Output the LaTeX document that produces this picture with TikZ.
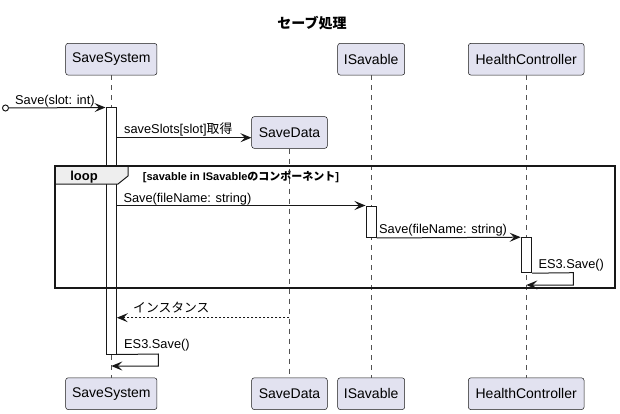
\documentclass[tikz,border=0pt]{standalone}
\usepackage{fontspec}
\setmainfont{Liberation Sans}
\newfontfamily\cjk{Noto Sans CJK JP}
\usetikzlibrary{arrows.meta}
\definecolor{partfill}{HTML}{E2E2F0}
\definecolor{ink}{HTML}{181818}
\definecolor{tabfill}{HTML}{EEEEEE}
\tikzset{
  part/.style={draw=ink, fill=partfill, rounded corners=2.5pt, line width=0.5pt,
    minimum height=31.7pt, inner sep=0pt, font=\fontsize{14pt}{16pt}\selectfont},
  lifeline/.style={draw=ink!75, line width=0.5pt, dash pattern=on 5pt off 5pt},
  actbar/.style={draw=ink, fill=white, line width=1pt, inner sep=0pt, minimum width=10.3pt},
  msg/.style={draw=ink, line width=1pt, -{Stealth[length=11pt,width=9pt,inset=4.5pt]}},
  ret/.style={msg, dash pattern=on 2pt off 2pt},
  lbl/.style={anchor=base west, inner sep=0pt, font=\fontsize{12.8pt}{15pt}\selectfont},
}
\begin{document}
\begin{tikzpicture}[x=1pt,y=-1pt]
\useasboundingbox (0,0) rectangle (620,414);
% title
\node[inner sep=0pt, font=\fontsize{14pt}{16pt}\selectfont\cjk\bfseries] (title) at (312,23.5) {セーブ処理};
% participants
\node[part, minimum width=91.3pt] (SSt) at (111.3,59.2) {SaveSystem};
\node[part, minimum width=67pt] (ISt) at (371.2,59.2) {ISavable};
\node[part, minimum width=115.7pt] (HCt) at (526.2,59.2) {HealthController};
\node[part, minimum width=75.6pt] (SDt) at (289.5,132.5) {SaveData};
\node[part, minimum width=91.3pt] (SSb) at (111.3,393.7) {SaveSystem};
\node[part, minimum width=75.6pt] (SDb) at (289.5,393.7) {SaveData};
\node[part, minimum width=67pt] (ISb) at (371.2,393.7) {ISavable};
\node[part, minimum width=115.7pt] (HCb) at (526.2,393.7) {HealthController};
% lifelines
\draw[lifeline] (SSt.south) -- (SSb.north);
\draw[lifeline] (SDt.south) -- (SDb.north);
\draw[lifeline] (ISt.south) -- (ISb.north);
\draw[lifeline] (HCt.south) -- (HCb.north);
% activations
\node[actbar, minimum height=246pt] (actSS) at (111.15,231) {};
\node[actbar, minimum height=31.5pt] (actIS) at (371.15,221.75) {};
\node[actbar, minimum height=35pt] (actHC) at (526.35,255.2) {};
% loop frame
\draw[fill=tabfill, draw=ink, line width=1pt] (55,166) -- (128,166) -- (128,176) -- (118,184) -- (55,184) -- cycle;
\draw[draw=ink, line width=1.5pt] (55,166) rectangle (615,288);
\node[anchor=base, inner sep=0pt, font=\fontsize{13pt}{15pt}\selectfont\bfseries] (looplbl) at (84,180.5) {loop};
\node[anchor=base west, inner sep=0pt, font=\fontsize{11pt}{13pt}\selectfont\bfseries] (guard) at (142.7,180) {[savable in ISavable{\cjk のコンポーネント}]};
% messages
\node[circle, draw=ink, line width=1pt, minimum size=6pt, inner sep=0pt] (found) at (5.5,108) {};
\draw[msg] (found.east) -- (actSS.north west);
\coordinate (y2) at (0,137.7);
\draw[msg] (actSS.east |- y2) -- (SDt.west |- y2);
\draw[msg] (actSS.east |- actIS.north) -- (actIS.north west);
\draw[msg] (actIS.south east) -- (actHC.north west);
\coordinate (s1a) at (573.3,272.7);
\coordinate (s1b) at (573.3,285);
\coordinate (s1c) at (526.3,285);
\draw[msg] (actHC.south east) -- (s1a) -- (s1b) -- (s1c);
\coordinate (r1) at (289.3,317.7);
\draw[ret] (r1) -- (actSS.east |- r1);
\coordinate (s2a) at (158.3,354);
\coordinate (s2b) at (158.3,366);
\coordinate (s2c) at (111.3,366);
\draw[msg] (actSS.south east) -- (s2a) -- (s2b) -- (s2c);
% labels
\node[lbl] (l1) at (15,104.5) {Save(slot: int)};
\node[lbl] (l2) at (124,134) {saveSlots[slot]{\cjk 取得}};
\node[lbl] (l3) at (123.3,202) {Save(fileName: string)};
\node[lbl] (l4) at (379,233.5) {Save(fileName: string)};
\node[lbl] (l5) at (538.3,268) {ES3.Save()};
\node[lbl] (l6) at (133,312.5) {\cjk インスタンス};
\node[lbl] (l7) at (124,348.5) {ES3.Save()};
\end{tikzpicture}
\end{document}
